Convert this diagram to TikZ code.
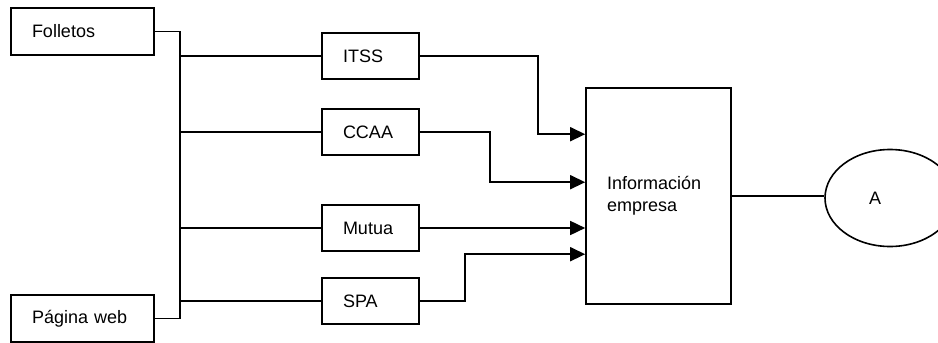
\documentclass[tikz,border=0pt]{standalone}
\usepackage{fontspec}
\setmainfont{Liberation Sans}
\usetikzlibrary{arrows.meta,calc,shapes.geometric}
\tikzstyle{BoxText}=[draw,line width=1.6pt,align=left,inner xsep=21pt,inner ysep=0pt,
font=\fontsize{18pt}{22pt}\selectfont]
\tikzstyle{BoxSource}=[BoxText,text width=101pt,minimum height=47pt]
\tikzstyle{BoxAgent}=[BoxText,text width=55pt,minimum height=46pt]
\tikzstyle{BoxInfo}=[BoxText,text width=103pt,minimum height=216pt]
\tikzstyle{NodeEnd}=[ellipse,draw,line width=1.6pt,minimum width=130pt,minimum height=97pt,
inner sep=0pt,text width=42pt,align=left,font=\fontsize{18pt}{22pt}\selectfont]
\tikzstyle{EdgeLine}=[line width=1.6pt]
\tikzstyle{EdgeArrow}=[line width=1.6pt,-{Triangle[length=15pt,width=14pt]}]

\begin{document}
\begin{tikzpicture}[x=1pt,y=-1pt]
        \useasboundingbox(0,0)rectangle(938,343);
        \node[BoxSource](fol)at(82.5,31.5){Folletos};
        \node[BoxSource](web)at(82.5,318.5){Página web};
        \node[BoxAgent](itss)at(370.5,56){ITSS};
        \node[BoxAgent](ccaa)at(370.5,132){CCAA};
        \node[BoxAgent](mutua)at(370.5,228){Mutua};
        \node[BoxAgent](spa)at(370.5,301){SPA};
        \node[BoxInfo](info)at(658.5,196){Información\\empresa};
        \node[NodeEnd](a)at(890,198){A};
        \coordinate(bus)at($(fol.east)+(25,0)$);
        \coordinate(inA)at($(info.north west)+(0,47)$);
        \coordinate(inB)at($(info.north west)+(0,95)$);
        \coordinate(inD)at($(info.north west)+(0,167)$);
        \draw[EdgeLine](fol.east)--(bus)|-(web.east);
        \draw[EdgeLine](bus|-itss.west)--(itss.west);
        \draw[EdgeLine](bus|-ccaa.west)--(ccaa.west);
        \draw[EdgeLine](bus|-mutua.west)--(mutua.west);
        \draw[EdgeLine](bus|-spa.west)--(spa.west);
        \draw[EdgeArrow](itss.east)-|($(inA)+(-47,0)$)--(inA);
        \draw[EdgeArrow](ccaa.east)-|($(inB)+(-95,0)$)--(inB);
        \draw[EdgeArrow](mutua.east)--(mutua.east-|info.west);
        \draw[EdgeArrow](spa.east)-|($(inD)+(-120,0)$)--(inD);
        \draw[EdgeLine](info.east)--(info.east-|a.west);
    \end{tikzpicture}
\end{document}
